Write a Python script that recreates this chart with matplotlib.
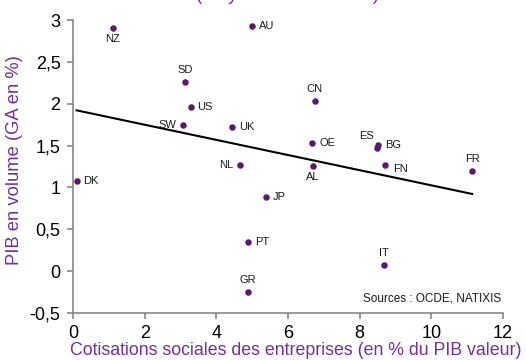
import matplotlib
matplotlib.use("Agg")
import matplotlib.pyplot as plt
import numpy as np

plt.rcParams['font.family'] = ['Liberation Sans', 'DejaVu Sans']

countries = ["NZ", "AU", "SD", "US", "SW", "UK", "CN", "OE", "ES", "BG",
             "AL", "FN", "FR", "DK", "NL", "JP", "PT", "GR", "IT"]
cotisations = [1.11, 4.99, 3.13, 3.28, 3.08, 4.43, 6.74, 6.68, 8.49, 8.52,
               6.70, 8.70, 11.14, 0.10, 4.66, 5.38, 4.89, 4.89, 8.68]
pib = [2.90, 2.925, 2.26, 1.957, 1.742, 1.718, 2.036, 1.527, 1.474, 1.503,
       1.256, 1.268, 1.196, 1.073, 1.271, 0.882, 0.351, -0.246, 0.073]
label_pos = ["below", "right", "above", "right", "left", "right", "above", "right",
             "aboveleft", "right", "below", "rightlow", "above", "right", "left",
             "right", "right", "above", "above"]
trend_intercept = 1.93
trend_slope = -0.0905

x_ticks = [0, 2, 4, 6, 8, 10, 12]
y_ticks = [-0.5, 0, 0.5, 1, 1.5, 2, 2.5, 3]
y_ticklabels = ["-0,5", "0", "0,5", "1", "1,5", "2", "2,5", "3"]

purple_text = "#7030A0"
dot_color = "#5B1A6E"

fig = plt.figure(figsize=(5.26, 3.6), dpi=100)
ax = fig.add_axes([0.1388, 0.1306, 0.8175, 0.8138])

ax.scatter(cotisations, pib, s=22, color=dot_color, zorder=3, linewidths=0)

xs = np.array([min(cotisations), max(cotisations)])
ax.plot(xs, trend_intercept + trend_slope * xs, color="black", lw=1.5, zorder=2)

offsets = {
    "right": ((5, 0), "left", "center"),
    "rightlow": ((6, -3), "left", "center"),
    "left": ((-5, 0), "right", "center"),
    "above": ((0, 5), "center", "bottom"),
    "below": ((0, -4), "center", "top"),
    "aboveleft": ((-8, 5), "center", "bottom"),
}
for c, x, y, p in zip(countries, cotisations, pib, label_pos):
    off, ha, va = offsets[p]
    ax.annotate(c, (x, y), xytext=off, textcoords="offset points",
                ha=ha, va=va, fontsize=8, color="#1a1a1a")

ax.set_xlim(0, 12)
ax.set_ylim(-0.5, 3)
ax.set_xticks(x_ticks)
ax.set_xticklabels([str(t) for t in x_ticks])
ax.set_yticks(y_ticks)
ax.set_yticklabels(y_ticklabels)
ax.tick_params(axis="both", labelsize=13, colors="#888888", labelcolor="black",
               length=4, width=1.2, direction="out")
ax.tick_params(axis="x", pad=5)
ax.tick_params(axis="y", pad=5)

for s in ["top", "right"]:
    ax.spines[s].set_visible(False)
for s in ["left", "bottom"]:
    ax.spines[s].set_color("#888888")
    ax.spines[s].set_linewidth(1.2)

ax.set_xlabel("Cotisations sociales des entreprises (en % du PIB valeur)",
              fontsize=12.8, color=purple_text, labelpad=0)
ax.xaxis.label.set_x(0.519)
ax.set_ylabel("PIB en volume (GA en %)", fontsize=13.2, color=purple_text, labelpad=5)
ax.yaxis.label.set_y(0.522)

ax.text(0.995, 0.03, "Sources : OCDE, NATIXIS", transform=ax.transAxes,
        ha="right", va="bottom", fontsize=8.5, color="#1a1a1a")

fig.text(288 / 526, 1.0, "(moyenne 1998-2013)", ha="center", va="baseline",
         fontsize=13.4, color=purple_text)

fig.savefig("out.png", dpi=100)
